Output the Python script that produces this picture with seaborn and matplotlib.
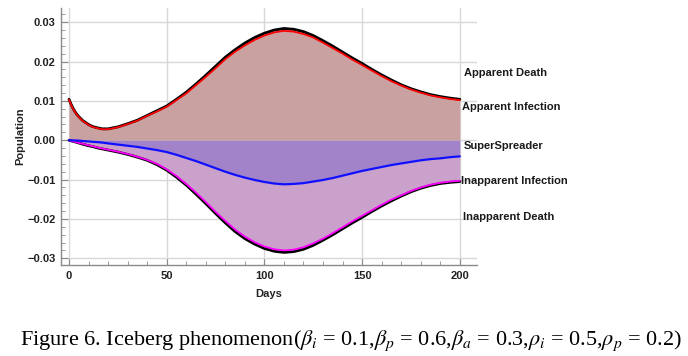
import numpy as np
import pandas as pd
import matplotlib
matplotlib.use("Agg")
import matplotlib.pyplot as plt
import seaborn as sns
from matplotlib.ticker import MultipleLocator, FuncFormatter

days = [0, 1, 2, 3, 4, 5, 7, 10, 12, 15, 17, 20, 25, 30, 35, 40, 45, 50, 55, 60, 65, 70, 75,
        80, 85, 90, 95, 100, 105, 110, 115, 120, 125, 130, 135, 140, 145, 150, 155, 160,
        165, 170, 175, 180, 185, 190, 195, 200]

apparent_death = [0.0104, 0.0092, 0.0082, 0.0073, 0.0066, 0.0060, 0.0050, 0.0040, 0.0035, 0.0031,
                  0.0029, 0.0029, 0.0034, 0.0042, 0.0051, 0.0063, 0.0075,
                  0.0087, 0.0104, 0.0122, 0.0143, 0.0165, 0.0188, 0.0211, 0.0230, 0.0247, 0.0261,
                  0.0272, 0.0280, 0.0284, 0.0282, 0.0276, 0.0266, 0.0253, 0.0239, 0.0224, 0.0209,
                  0.0195, 0.0180, 0.0166, 0.0153, 0.0141, 0.0131, 0.0123, 0.0116, 0.0111, 0.0107,
                  0.0104]

apparent_infection = [0.0103, 0.0091, 0.0081, 0.0072, 0.0065, 0.0059, 0.0049, 0.0039, 0.0034, 0.0030,
                      0.0028, 0.0028, 0.0033, 0.0041, 0.0050, 0.0062, 0.0073,
                      0.0085, 0.0102, 0.0119, 0.0140, 0.0161, 0.0183, 0.0206, 0.0225, 0.0241, 0.0255,
                      0.0266, 0.0274, 0.0278, 0.0276, 0.0270, 0.0261, 0.0248, 0.0234, 0.0220, 0.0205,
                      0.0191, 0.0177, 0.0163, 0.0150, 0.0139, 0.0129, 0.0121, 0.0114, 0.0109, 0.0105,
                      0.0102]

superspreader = [0.0, -0.00002, -0.00004, -0.00006, -0.00008, -0.0001, -0.0002, -0.0003, -0.0004, -0.0005,
                 -0.0006, -0.0008, -0.0011, -0.0014, -0.0017, -0.0021, -0.0025,
                 -0.0030, -0.0037, -0.0045, -0.0053, -0.0062, -0.0071, -0.0080, -0.0088, -0.0095, -0.0101,
                 -0.0106, -0.0110, -0.0112, -0.0111, -0.0109, -0.0105, -0.0101, -0.0096, -0.0090, -0.0084,
                 -0.0078, -0.0073, -0.0068, -0.0063, -0.0059, -0.0055, -0.0051, -0.0048, -0.0046, -0.0043,
                 -0.0041]

inapparent_infection = [0.0, -0.00014, -0.00028, -0.0004, -0.00055, -0.0007, -0.0009, -0.0013, -0.0015, -0.0019,
                        -0.0021, -0.0024, -0.0029, -0.0035, -0.0042, -0.0050, -0.0060,
                        -0.0074, -0.0091, -0.0111, -0.0133, -0.0157, -0.0182, -0.0205, -0.0227, -0.0245, -0.0259,
                        -0.0270, -0.0277, -0.0280, -0.0278, -0.0272, -0.0262, -0.0250, -0.0236, -0.0221, -0.0206,
                        -0.0192, -0.0178, -0.0164, -0.0151, -0.0140, -0.0129, -0.0120, -0.0113, -0.0108, -0.0105,
                        -0.0103]

inapparent_death = [0.0, -0.00014, -0.00028, -0.0004, -0.00056, -0.0007, -0.0010, -0.0014, -0.0016, -0.0020,
                    -0.0022, -0.0025, -0.0030, -0.0036, -0.0043, -0.0051, -0.0062,
                    -0.0076, -0.0094, -0.0114, -0.0137, -0.0161, -0.0186, -0.0210, -0.0232, -0.0250, -0.0264,
                    -0.0275, -0.0282, -0.0285, -0.0283, -0.0277, -0.0267, -0.0254, -0.0240, -0.0225, -0.0210,
                    -0.0196, -0.0181, -0.0167, -0.0154, -0.0142, -0.0131, -0.0122, -0.0115, -0.0110, -0.0107,
                    -0.0105]

labels = ["Apparent Death", "Apparent Infection", "SuperSpreader",
          "Inapparent Infection", "Inapparent Death"]
label_x = [202.0, 201.2, 202.2, 200.5, 201.5]
label_y = [0.0172, 0.0085, -0.00145, -0.01025, -0.0195]

df = pd.DataFrame({
    "Days": days,
    "apparent_death": apparent_death,
    "apparent_infection": apparent_infection,
    "superspreader": superspreader,
    "inapparent_infection": inapparent_infection,
    "inapparent_death": inapparent_death,
})

sns.set_style("white")
plt.rcParams["font.family"] = ["Liberation Sans", "DejaVu Sans"]
plt.rcParams["mathtext.fontset"] = "stix"

fig = plt.figure(figsize=(6.88, 3.56), dpi=100)
ax = fig.add_axes([61 / 688, 1 - 265 / 356, (477 - 61) / 688, (265 - 8) / 356])

zero = np.zeros(len(days))
ax.fill_between(df["Days"], zero, df["apparent_death"], color="#c9a1a1", lw=0, zorder=1)
ax.fill_between(df["Days"], zero, df["superspreader"], color="#a283c9", lw=0, zorder=1)
ax.fill_between(df["Days"], df["superspreader"], df["inapparent_death"], color="#c9a1cb", lw=0, zorder=1)

sns.lineplot(data=df, x="Days", y="apparent_death", color="black", lw=2.0, ax=ax, zorder=3)
sns.lineplot(data=df, x="Days", y="apparent_infection", color="#ff0000", lw=1.3, ax=ax, zorder=4)
sns.lineplot(data=df, x="Days", y="inapparent_death", color="black", lw=2.0, ax=ax, zorder=3)
sns.lineplot(data=df, x="Days", y="inapparent_infection", color="#ff00ff", lw=1.3, ax=ax, zorder=4)
sns.lineplot(data=df, x="Days", y="superspreader", color="#1010ff", lw=1.6, ax=ax, zorder=4)

ax.set_xlim(-4.1, 208.8)
ax.set_ylim(-0.0317, 0.0336)

ax.xaxis.set_major_locator(MultipleLocator(50))
ax.xaxis.set_minor_locator(MultipleLocator(10))
ax.yaxis.set_major_locator(MultipleLocator(0.01))
ax.yaxis.set_minor_locator(MultipleLocator(0.002))
ax.yaxis.set_major_formatter(FuncFormatter(lambda v, p: ("\u2212" if v < -1e-9 else "") + f"{abs(v):.2f}"))

ax.grid(True, which="major", color="#d8d8d8", lw=1.0, zorder=0)
ax.set_axisbelow(True)

for side in ["top", "right"]:
    ax.spines[side].set_visible(False)
for side in ["left", "bottom"]:
    ax.spines[side].set_color("#8a8a8a")
    ax.spines[side].set_linewidth(1.0)

ax.tick_params(which="major", direction="in", length=5, width=0.8, color="#8a8a8a",
               labelsize=8, pad=4, left=True, bottom=True)
ax.tick_params(which="minor", direction="in", length=3, width=0.6, color="#8a8a8a",
               left=True, bottom=True)
for t in ax.get_xticklabels() + ax.get_yticklabels():
    t.set_fontweight("bold")
    t.set_color("#222222")

ax.set_xlabel("Days", fontsize=8, fontweight="bold", color="#222222", labelpad=6)
ax.set_ylabel("Population", fontsize=8, fontweight="bold", color="#222222", labelpad=1)

for lab, lx, ly in zip(labels, label_x, label_y):
    ax.text(lx, ly, lab, fontsize=8, fontweight="bold", color="#1a1a1a",
            ha="left", va="center", clip_on=False)

caption = (r"Figure 6. Iceberg phenomenon($\beta_i$ = 0.1,$\beta_p$ = 0.6,"
           r"$\beta_a$ = 0.3,$\rho_i$ = 0.5,$\rho_p$ = 0.2)")
fig.text(20 / 688, 1 - 341 / 356, caption, fontsize=16, family=["Liberation Serif"],
         ha="left", va="center", color="black")

fig.savefig("out.png", dpi=100)
